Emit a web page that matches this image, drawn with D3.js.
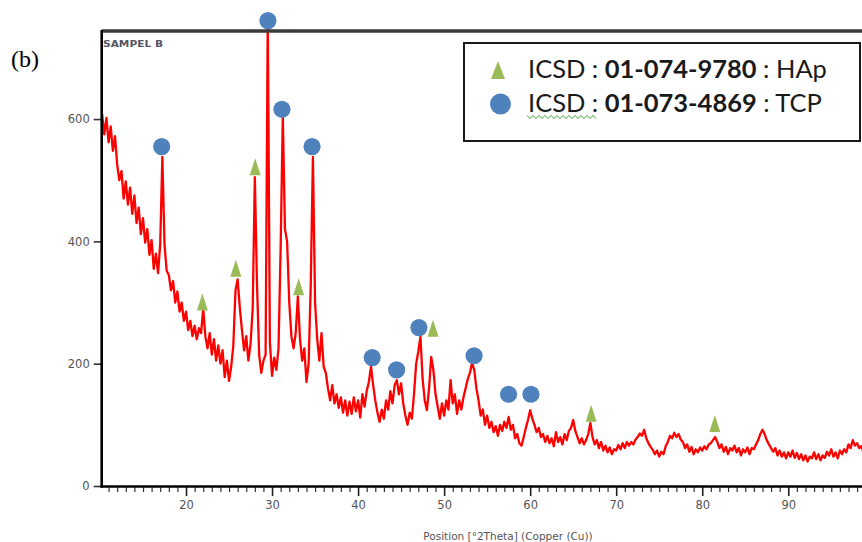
<!DOCTYPE html>
<html><head><meta charset="utf-8">
<script src="https://cdn.jsdelivr.net/npm/d3@7"></script>
<style>html,body{margin:0;padding:0;background:#fff;} svg{display:block;}</style>
</head><body>
<svg id="chart" width="862" height="542"></svg>
<script>
// ---- data ----
const startAngle = 10.0;   // first 2Theta of the scan
const stepAngle = 0.25;    // scan step
const intensity = [
  590, 608, 575, 602, 562, 588, 548, 572,
  525, 500, 515, 470, 498, 460, 488, 445,
  475, 430, 455, 412, 438, 398, 420, 378,
  402, 355, 380, 348, 395, 538, 395, 352,
  345, 320, 335, 300, 318, 285, 300, 270,
  285, 255, 270, 245, 262, 240, 258, 250,
  290, 245, 225, 250, 215, 240, 205, 230,
  200, 222, 178, 205, 172, 195, 230, 320,
  338, 292, 255, 222, 245, 205, 232, 290,
  505, 330, 215, 185, 205, 215, 765, 235,
  180, 210, 190, 225, 390, 605, 420, 400,
  300, 245, 225, 250, 310, 240, 205, 225,
  170, 200, 330, 538, 300, 240, 205, 250,
  195, 185, 160, 140, 165, 135, 150, 128,
  145, 120, 140, 115, 138, 118, 145, 122,
  140, 112, 150, 130, 155, 170, 195, 165,
  140, 120, 105, 125, 110, 140, 125, 155,
  135, 165, 173, 150, 168, 135, 115, 100,
  120, 110, 150, 200, 220, 244, 175, 140,
  124, 160, 211, 190, 150, 130, 110, 135,
  115, 140, 125, 173, 135, 150, 118, 140,
  125, 145, 160, 175, 185, 201, 190, 160,
  140, 115, 125, 100, 115, 95, 105, 88,
  98, 82, 100, 90, 105, 95, 113, 92,
  100, 78, 85, 70, 66, 80, 95, 108,
  124, 110, 100, 88, 95, 80, 85, 72,
  82, 70, 78, 65, 88, 72, 80, 68,
  85, 75, 90, 95, 108, 90, 80, 70,
  78, 68, 75, 85, 103, 80, 68, 75,
  62, 72, 58, 66, 55, 63, 52, 60,
  58, 67, 60, 70, 62, 72, 66, 72,
  68, 76, 80, 86, 82, 92, 78, 70,
  64, 59, 52, 58, 48, 56, 52, 65,
  72, 82, 78, 87, 80, 85, 76, 72,
  62, 68, 56, 64, 52, 60, 55, 63,
  58, 65, 60, 68, 70, 75, 80, 72,
  62, 68, 56, 64, 52, 62, 58, 66,
  55, 62, 50, 60, 55, 63, 52, 62,
  60, 68, 75, 85, 92, 85, 75, 68,
  62, 56, 62, 50, 58, 48, 55, 45,
  55, 48, 58, 46, 54, 44, 52, 42,
  50, 40, 48, 45, 55, 44, 52, 42,
  50, 46, 56, 50, 60, 48, 55, 45,
  58, 52, 60, 55, 68, 62, 75, 66,
  70, 62, 65, 55, 60, 52, 58, 50,
  55
];
const tcpAngles = [17.17, 29.52, 31.15, 34.65, 41.64, 44.48, 47.07, 53.48, 57.49, 60.09];
const tcpMarks  = [555, 761, 616, 555, 210, 190, 259, 213, 150, 150];
const hapAngles = [21.9, 25.79, 28.04, 33.09, 48.71, 67.09, 81.46];
const hapMarks  = [301, 356, 522, 326, 258, 119, 102];
const xTicks = [20, 30, 40, 50, 60, 70, 80, 90];
const yTicks = [0, 200, 400, 600];
const legendCodes = ["01-074-9780", "01-073-4869"];
const legendPhases = ["HAp", "TCP"];
const sampleName = "SAMPEL B";
const panelLabel = "(b)";
const xTitle = "Position [°2Theta] (Copper (Cu))";

// ---- drawing ----
const svg = d3.select("#chart");
const x = d3.scaleLinear().domain([10.2, 100]).range([101.7, 874.3]);
const y = d3.scaleLinear().domain([0, 744]).range([486, 31]);
const red = "#ff0000", blue = "#4f81bd", green = "#9bbb59";

svg.append("rect").attr("width", 862).attr("height", 542).attr("fill", "#fff");

// panel label
svg.append("text").attr("x", 11).attr("y", 67)
  .attr("font-family", "'Liberation Serif', 'DejaVu Serif', serif").attr("font-size", 24)
  .attr("fill", "#000").text(panelLabel);

// clip for trace
svg.append("defs").append("clipPath").attr("id", "clip")
  .append("rect").attr("x", 102).attr("y", 0).attr("width", 800).attr("height", 486);

// minor x ticks
const minor = d3.range(11, 100).filter(d => d % 10 !== 0);
const gMinor = svg.append("g").attr("transform", "translate(0,487)")
  .call(d3.axisBottom(x).tickValues(minor).tickSize(5).tickSizeOuter(0).tickFormat(""));
gMinor.select(".domain").remove();
gMinor.selectAll("line").attr("stroke", "#333").attr("stroke-width", 1.2);

// major x ticks
const gx = svg.append("g").attr("transform", "translate(0,487)")
  .call(d3.axisBottom(x).tickValues(xTicks).tickSize(9).tickSizeOuter(0).tickPadding(5).tickFormat(d3.format("d")));
gx.select(".domain").remove();
gx.selectAll("line").attr("stroke", "#222").attr("stroke-width", 1.6);
gx.selectAll("text").attr("font-family", "'DejaVu Sans', sans-serif").attr("font-size", 11.5)
  .attr("fill", "#555").attr("dy", "0.71em");

// y ticks
const gy = svg.append("g").attr("transform", "translate(101.7,0)")
  .call(d3.axisLeft(y).tickValues(yTicks).tickSize(8).tickSizeOuter(0).tickPadding(4));
gy.select(".domain").remove();
gy.selectAll("line").attr("stroke", "#333").attr("stroke-width", 1.6);
gy.selectAll("text").attr("font-family", "'DejaVu Sans', sans-serif").attr("font-size", 11.5)
  .attr("fill", "#555");

// trace
const line = d3.line()
  .x((d, i) => x(startAngle + i * stepAngle))
  .y(d => y(d));
svg.append("path").datum(intensity)
  .attr("clip-path", "url(#clip)")
  .attr("d", line).attr("fill", "none").attr("stroke", red)
  .attr("stroke-width", 2.3).attr("stroke-linejoin", "round");

// frame
svg.append("line").attr("x1", 101.7).attr("x2", 862).attr("y1", 31).attr("y2", 31)
  .attr("stroke", "#3a3a3a").attr("stroke-width", 3.5);
svg.append("line").attr("x1", 101.7).attr("x2", 101.7).attr("y1", 30).attr("y2", 487.5)
  .attr("stroke", "#000").attr("stroke-width", 2.6);
svg.append("line").attr("x1", 100.5).attr("x2", 862).attr("y1", 486.5).attr("y2", 486.5)
  .attr("stroke", "#000").attr("stroke-width", 2.6);

// sample name
svg.append("text").attr("x", 103).attr("y", 47)
  .attr("font-family", "'DejaVu Sans', sans-serif").attr("font-size", 9)
  .attr("font-weight", "bold").attr("fill", "#556")
  .attr("textLength", 60).attr("lengthAdjust", "spacingAndGlyphs").text(sampleName);

// x title
svg.append("text").attr("x", 508).attr("y", 540).attr("text-anchor", "middle")
  .attr("font-family", "'DejaVu Sans', sans-serif").attr("font-size", 10.5)
  .attr("fill", "#555").text(xTitle);

// markers
const tri = (cx, cy, w, h) => `M${cx},${cy - h / 2}L${cx + w / 2},${cy + h / 2}L${cx - w / 2},${cy + h / 2}Z`;
svg.append("g").selectAll("path").data(hapAngles).join("path")
  .attr("d", (d, i) => tri(x(d), y(hapMarks[i]), 11, 17)).attr("fill", green);
svg.append("g").selectAll("circle").data(tcpAngles).join("circle")
  .attr("cx", d => x(d)).attr("cy", (d, i) => y(tcpMarks[i])).attr("r", 8.6).attr("fill", blue);

// legend
const lg = svg.append("g");
lg.append("rect").attr("x", 464).attr("y", 43).attr("width", 396).attr("height", 98)
  .attr("fill", "#fff").attr("stroke", "#1a1a1a").attr("stroke-width", 2);
lg.append("path").attr("d", tri(498, 70, 14, 18)).attr("fill", green);
lg.append("circle").attr("cx", 500.5).attr("cy", 104).attr("r", 10.5).attr("fill", blue);
const rowsY = [78, 112];
const targetW = [299, 294];
legendCodes.forEach((code, i) => {
  const t = lg.append("text").attr("x", 528).attr("y", rowsY[i])
    .attr("font-family", "Lato, 'Open Sans', sans-serif").attr("font-size", 22).attr("fill", "#1a1a1a");
  t.append("tspan").text("ICSD : ");
  t.append("tspan").attr("font-weight", "bold").text(code);
  t.append("tspan").text(" : " + legendPhases[i]);
  const w = t.node().getComputedTextLength();
  t.attr("font-size", 22 * targetW[i] / w);
});
// spell-check squiggle under second "ICSD :"
const sq = d3.range(0, 24).map(k => [527 + k * 3, 117 + (k % 2 ? 1.6 : -1.6)]);
lg.append("path").attr("d", d3.line()(sq)).attr("fill", "none")
  .attr("stroke", "#3aa23a").attr("stroke-width", 1);
</script>
</body></html>
